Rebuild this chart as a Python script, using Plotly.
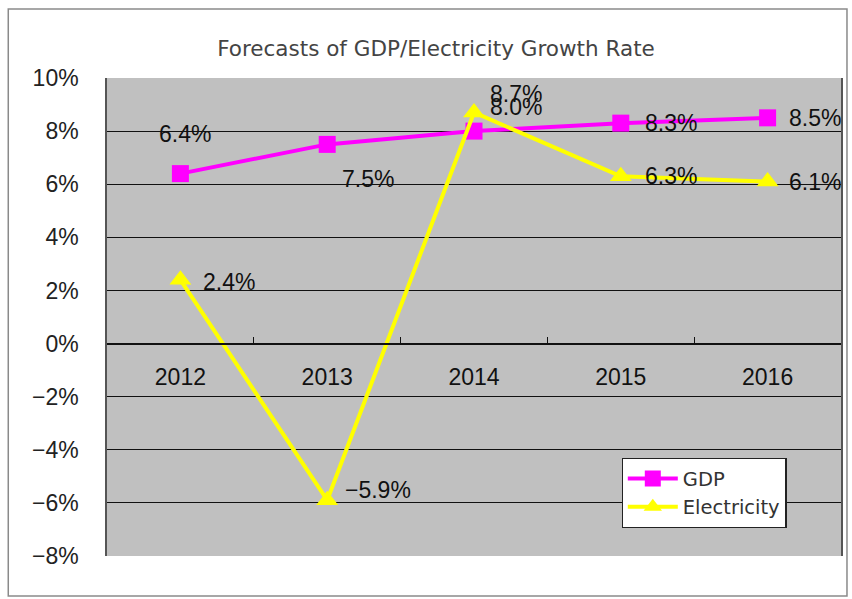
import plotly.graph_objects as go

# Forecast data (percent growth)
years = ["2012", "2013", "2014", "2015", "2016"]
gdp = [6.4, 7.5, 8.0, 8.3, 8.5]
electricity = [2.4, -5.9, 8.7, 6.3, 6.1]
y_ticks = [-8, -6, -4, -2, 0, 2, 4, 6, 8, 10]

W, H = 852, 599
L, R, T, B = 107, 9, 78, 43

LABEL_FONT = "Liberation Sans, Arial"
GOTHIC = "DejaVu Sans"

fig = go.Figure()
fig.add_trace(go.Scatter(
    x=years, y=gdp, name="GDP", mode="lines+markers",
    line=dict(color="#ff00ff", width=4),
    marker=dict(symbol="square", size=17, color="#ff00ff"),
))
fig.add_trace(go.Scatter(
    x=years, y=electricity, name="Electricity", mode="lines+markers",
    line=dict(color="#ffff00", width=4),
    marker=dict(symbol="triangle-up", size=19, color="#ffff00"),
))


def fmt(v, digits=1):
    s = f"{abs(v):.{digits}f}%"
    return ("\u2212" + s) if v < 0 else s


# label offsets (px) for each point label
gdp_off = [(5, 40), (41, -35), (42, 24), (50, 0), (47, 0)]
ele_off = [(49, -2), (51, 10), (42, 19), (50, 0), (47, 0)]

annotations = []
for vals, offs in ((gdp, gdp_off), (electricity, ele_off)):
    for i, (v, (dx, dy)) in enumerate(zip(vals, offs)):
        annotations.append(dict(
            x=i, y=v, xref="x", yref="y", text=fmt(v), showarrow=False,
            xshift=dx, yshift=dy, xanchor="center", yanchor="middle",
            font=dict(family=LABEL_FONT, size=23, color="#111"),
        ))

ymin, ymax = -8, 10
zero_pos = (0 - ymin) / (ymax - ymin)

# outer chart border (paper coords relative to plot area)
pw, ph = W - L - R, H - T - B


def px_x(p):
    return (p - L) / pw


def px_y(p):
    return (H - B - p) / ph


fig.add_shape(type="rect", xref="paper", yref="paper",
              x0=px_x(8), x1=px_x(849), y0=px_y(596), y1=px_y(9),
              line=dict(color="#8a8a8a", width=1.5), layer="below")

fig.update_layout(
    width=W, height=H,
    margin=dict(l=L, r=R, t=T, b=B),
    paper_bgcolor="white",
    plot_bgcolor="#c0c0c0",
    title=dict(text="Forecasts of GDP/Electricity Growth Rate",
               x=436 / W, xanchor="center", y=1 - 48 / H, yanchor="middle",
               yref="container",
               font=dict(family=GOTHIC, size=21.5, color="#444")),
    font=dict(family=LABEL_FONT, color="#111"),
    showlegend=True,
    legend=dict(x=px_x(623), y=px_y(458), xanchor="left", yanchor="top",
                bgcolor="white", bordercolor="#222", borderwidth=1.2,
                font=dict(family=GOTHIC, size=19.5, color="#333"),
                itemwidth=50, tracegroupgap=8),
    annotations=annotations,
    xaxis=dict(
        type="category", range=[-0.5, 4.5],
        anchor="free", position=zero_pos,
        showline=True, linecolor="#111", linewidth=1.5,
        ticks="inside", tickson="boundaries", ticklen=6, tickcolor="#111",
        showgrid=False, zeroline=False,
        ticklabelstandoff=13,
        tickfont=dict(family=LABEL_FONT, size=23, color="#111"),
    ),
    yaxis=dict(
        range=[ymin, ymax], tickmode="array", tickvals=y_ticks,
        ticktext=[fmt(v, 0) for v in y_ticks],
        showgrid=True, gridcolor="#111", gridwidth=1,
        zeroline=False,
        showline=True, linecolor="#555", linewidth=1.5, mirror=True,
        ticks="", ticklabelstandoff=22,
        tickfont=dict(family=LABEL_FONT, size=23, color="#222"),
    ),
)

fig.write_html("out.html")
